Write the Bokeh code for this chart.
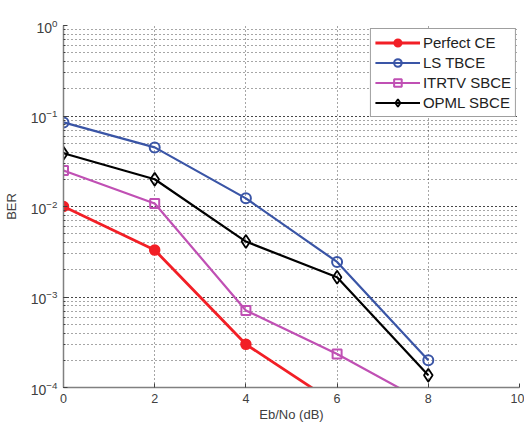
from bokeh.plotting import figure
from bokeh.models import Range1d, SingleIntervalTicker, LogTicker, Legend, LegendItem
from bokeh.embed import file_html
from bokeh.resources import INLINE

ebno = [0, 2, 4, 6, 8]
perfect_ce_x = [0, 2, 4, 6]
perfect_ce = [1.0e-2, 3.3e-3, 3.0e-4, 6.5e-5]
ls_tbce = [8.5e-2, 4.5e-2, 1.23e-2, 2.44e-3, 2.0e-4]
itrtv_sbce = [2.5e-2, 1.08e-2, 7.1e-4, 2.34e-4, 6.6e-5]
opml_sbce = [3.87e-2, 2.0e-2, 4.1e-3, 1.65e-3, 1.37e-4]

FONT = "Liberation Sans"
TXT = "#404040"

p = figure(width=524, height=425, y_axis_type="log",
           x_range=Range1d(0, 10), y_range=Range1d(1e-4, 1),
           output_backend="svg", toolbar_location=None,
           min_border_left=62, min_border_right=5, min_border_top=25,
           min_border_bottom=38)
p.outline_line_color = None
p.background_fill_color = "white"

p.xaxis.ticker = SingleIntervalTicker(interval=2, num_minor_ticks=0)
p.yaxis.ticker = LogTicker(num_minor_ticks=10)

for ax in (p.xaxis[0], p.yaxis[0]):
    ax.axis_line_color = "#808080"
    ax.axis_line_width = 1.5
    ax.major_tick_in = 4
    ax.major_tick_out = 0
    ax.major_tick_line_color = "#404040"
    ax.major_label_text_font = FONT
    ax.major_label_text_color = TXT
    ax.axis_label_text_font = FONT
    ax.axis_label_text_font_size = "13px"
    ax.axis_label_text_font_style = "normal"
    ax.axis_label_text_color = TXT
p.xaxis.major_label_text_font_size = "12.5px"
p.yaxis.major_label_text_font_size = "14px"
p.xaxis.minor_tick_line_color = None
p.yaxis.minor_tick_in = 2
p.yaxis.minor_tick_out = 0
p.yaxis.minor_tick_line_color = "#404040"
p.xaxis.major_label_standoff = 6
p.xaxis.axis_label_standoff = 1
p.yaxis.major_label_standoff = 6
p.yaxis.axis_label_standoff = 9
p.xaxis.axis_label = "Eb/No (dB)"
p.yaxis.axis_label = "BER"

p.xgrid.grid_line_color = "#000000"
p.xgrid.grid_line_alpha = 0.7
p.xgrid.grid_line_dash = "1 3"
p.ygrid.grid_line_color = "#000000"
p.ygrid.grid_line_alpha = 0.7
p.ygrid.grid_line_dash = "1 3"
p.ygrid.minor_grid_line_color = "#000000"
p.ygrid.minor_grid_line_alpha = 0.7
p.ygrid.minor_grid_line_dash = "1 3"

RED = "#f21f26"
BLUE = "#3a55a6"
MAG = "#c050b4"
BLK = "#000000"

items = []
l1 = p.line(perfect_ce_x, perfect_ce, line_color=RED, line_width=2.8)
s1 = p.scatter(perfect_ce_x, perfect_ce, marker="circle", size=10,
               line_color=RED, fill_color=RED, line_width=1.5)
items.append(LegendItem(label="Perfect CE", renderers=[l1, s1]))

l2 = p.line(ebno, ls_tbce, line_color=BLUE, line_width=2.2)
s2 = p.scatter(ebno, ls_tbce, marker="circle", size=10,
               line_color=BLUE, fill_color=None, line_width=2)
items.append(LegendItem(label="LS TBCE", renderers=[l2, s2]))

l3 = p.line(ebno, itrtv_sbce, line_color=MAG, line_width=2.2)
s3 = p.scatter(ebno, itrtv_sbce, marker="square", size=9,
               line_color=MAG, fill_color=None, line_width=2)
items.append(LegendItem(label="ITRTV SBCE", renderers=[l3, s3]))

l4 = p.line(ebno, opml_sbce, line_color=BLK, line_width=2.2)
s4 = p.scatter(ebno, opml_sbce, marker="diamond", size=13,
               line_color=BLK, fill_color=None, line_width=1.8)
items.append(LegendItem(label="OPML SBCE", renderers=[l4, s4]))

legend = Legend(items=items, location="top_right")
legend.margin = 3
legend.padding = 4
legend.spacing = 1
legend.glyph_width = 45
legend.glyph_height = 19
legend.label_height = 19
legend.label_standoff = 3
legend.label_text_font = FONT
legend.label_text_font_size = "15px"
legend.label_text_color = "#222222"
legend.border_line_color = "#404040"
legend.border_line_width = 1
legend.background_fill_color = "white"
legend.background_fill_alpha = 1.0
p.add_layout(legend)

open("out.html", "w").write(file_html(p, INLINE))
